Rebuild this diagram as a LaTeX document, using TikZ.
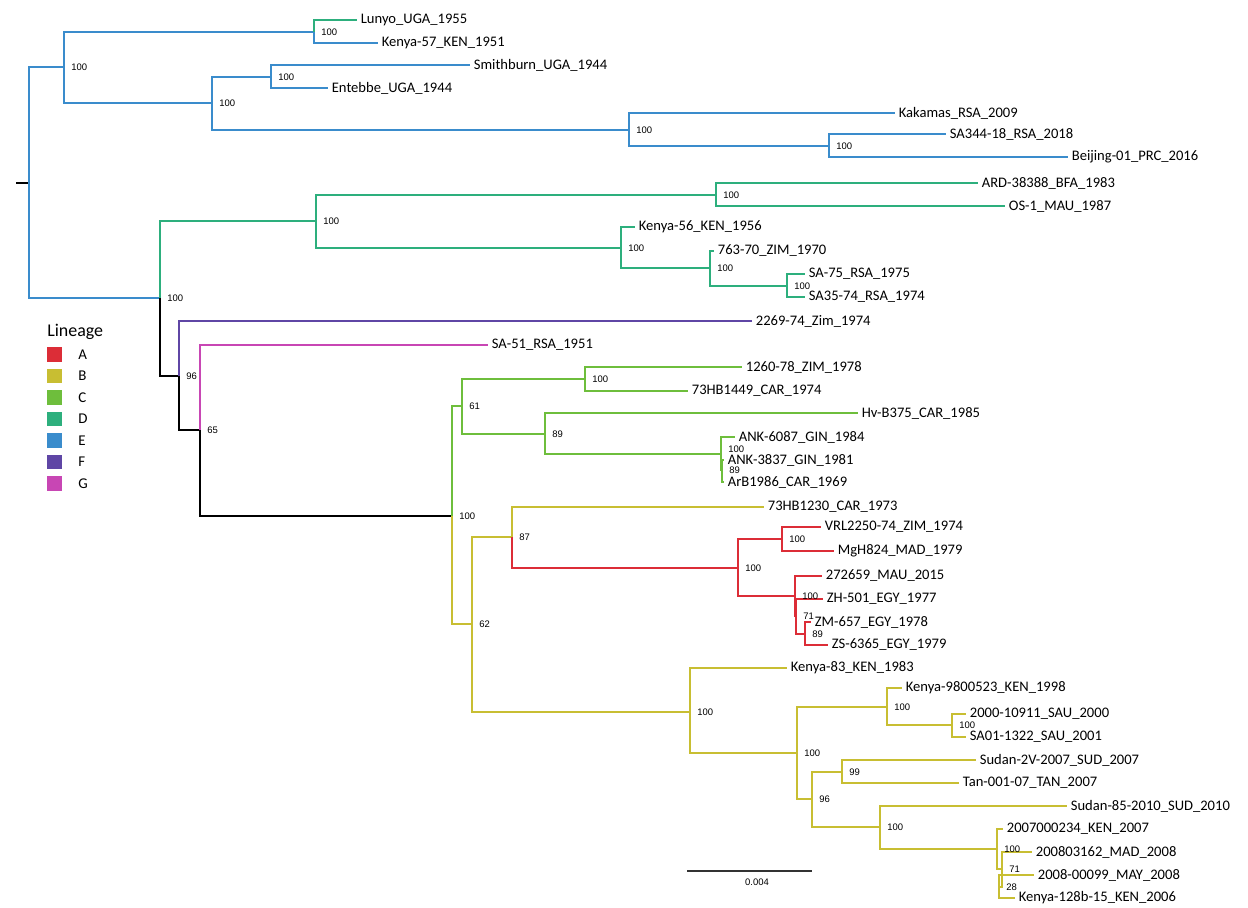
\documentclass[tikz,border=0pt]{standalone}
\usepackage{fontspec}
\setmainfont{Carlito}
\newfontfamily\supfont{Liberation Sans}
\usepackage{tikz}
\usetikzlibrary{positioning}

\definecolor{linA}{RGB}{220,45,55}
\definecolor{linB}{RGB}{200,190,50}
\definecolor{linC}{RGB}{110,190,60}
\definecolor{linD}{RGB}{45,175,125}
\definecolor{linE}{RGB}{58,140,204}
\definecolor{linF}{RGB}{95,70,165}
\definecolor{linG}{RGB}{200,70,180}

\begin{document}
\begin{tikzpicture}[
    x=0.02cm, y=-0.02cm,
    br/.style={line width=1.1pt, draw=#1},
    br/.default=black,
    leaf/.style={anchor=west, font=\fontsize{8.3}{9}\selectfont, inner xsep=2pt, inner ysep=0pt},
    sup/.style={anchor=west, font=\supfont\fontsize{5.4}{6}\selectfont, inner sep=0pt, xshift=4pt},
    keybox/.style={draw=none, fill=#1, minimum size=8.5pt, inner sep=0pt},
    key/.style={anchor=west, font=\fontsize{8.5}{10}\selectfont, inner sep=0pt}
  ]
    \useasboundingbox (0,0) rectangle (1248,907);
    \fill[white] (0,0) rectangle (1248,907);

    % internal nodes of the tree
    \coordinate (stub) at (16,183);
    \coordinate (root) at (29,183);
    \coordinate (nE) at (64,67);
    \coordinate (n12) at (314,32);
    \coordinate (nEb) at (212,103);
    \coordinate (n34) at (271,77);
    \coordinate (nKak) at (629,130);
    \coordinate (nSA) at (829,146);
    \coordinate (nR) at (160,298);
    \coordinate (nD) at (316,221);
    \coordinate (nD1) at (716,195);
    \coordinate (nD2) at (621,248);
    \coordinate (nD3) at (710,268);
    \coordinate (nD4) at (787,286);
    \coordinate (nF) at (179,376);
    \coordinate (nG) at (200,430);
    \coordinate (nCB) at (452,516);
    \coordinate (nC) at (462,406);
    \coordinate (nC1) at (585,379);
    \coordinate (nC2) at (545,434);
    \coordinate (nC3) at (721,454);
    \coordinate (nC4) at (722,470);
    \coordinate (nB) at (472,624);
    \coordinate (nB1) at (512,537);
    \coordinate (nA) at (738,568);
    \coordinate (nA1) at (782,539);
    \coordinate (nA2) at (795,596);
    \coordinate (nA3) at (796,616);
    \coordinate (nA4) at (805,634);
    \coordinate (nB2) at (690,712);
    \coordinate (nB3) at (797,753);
    \coordinate (nB4) at (887,707);
    \coordinate (nB5) at (952,725);
    \coordinate (nB6) at (812,799);
    \coordinate (nB7) at (842,772);
    \coordinate (nB8) at (880,827);
    \coordinate (nB9) at (997,849);
    \coordinate (nB10) at (1002,869);
    \coordinate (nB11) at (999,887);

    % leaves
    \node[leaf] (lunyo) at (357,20) {Lunyo\_UGA\_1955};
    \node[leaf] (ken57) at (378,43) {Kenya-57\_KEN\_1951};
    \node[leaf] (smith) at (470,65) {Smithburn\_UGA\_1944};
    \node[leaf] (enteb) at (328,88) {Entebbe\_UGA\_1944};
    \node[leaf] (kakam) at (895,113) {Kakamas\_RSA\_2009};
    \node[leaf] (sa344) at (946,134) {SA344-18\_RSA\_2018};
    \node[leaf] (beij) at (1068,157) {Beijing-01\_PRC\_2016};
    \node[leaf] (ard) at (978,183) {ARD-38388\_BFA\_1983};
    \node[leaf] (os1) at (1005,206) {OS-1\_MAU\_1987};
    \node[leaf] (ken56) at (635,227) {Kenya-56\_KEN\_1956};
    \node[leaf] (z763) at (714,251) {763-70\_ZIM\_1970};
    \node[leaf] (sa75) at (805,274) {SA-75\_RSA\_1975};
    \node[leaf] (sa35) at (805,297) {SA35-74\_RSA\_1974};
    \node[leaf] (zim2269) at (752,321) {2269-74\_Zim\_1974};
    \node[leaf] (sa51) at (488,345) {SA-51\_RSA\_1951};
    \node[leaf] (z1260) at (742,367) {1260-78\_ZIM\_1978};
    \node[leaf] (hb1449) at (688,391) {73HB1449\_CAR\_1974};
    \node[leaf] (hvb) at (858,413) {Hv-B375\_CAR\_1985};
    \node[leaf] (ank6087) at (735,437) {ANK-6087\_GIN\_1984};
    \node[leaf] (ank3837) at (724,460) {ANK-3837\_GIN\_1981};
    \node[leaf] (arb) at (724,482) {ArB1986\_CAR\_1969};
    \node[leaf] (hb1230) at (764,507) {73HB1230\_CAR\_1973};
    \node[leaf] (vrl) at (821,527) {VRL2250-74\_ZIM\_1974};
    \node[leaf] (mgh) at (834,551) {MgH824\_MAD\_1979};
    \node[leaf] (m272) at (822,576) {272659\_MAU\_2015};
    \node[leaf] (zh501) at (823,599) {ZH-501\_EGY\_1977};
    \node[leaf] (zm657) at (811,622) {ZM-657\_EGY\_1978};
    \node[leaf] (zs6365) at (828,645) {ZS-6365\_EGY\_1979};
    \node[leaf] (ken83) at (787,668) {Kenya-83\_KEN\_1983};
    \node[leaf] (ken98) at (902,688) {Kenya-9800523\_KEN\_1998};
    \node[leaf] (s2000) at (966,714) {2000-10911\_SAU\_2000};
    \node[leaf] (sa01) at (966,737) {SA01-1322\_SAU\_2001};
    \node[leaf] (sud2v) at (976,760) {Sudan-2V-2007\_SUD\_2007};
    \node[leaf] (tan) at (959,783) {Tan-001-07\_TAN\_2007};
    \node[leaf] (sud85) at (1067,806) {Sudan-85-2010\_SUD\_2010};
    \node[leaf] (k2007) at (1003,829) {2007000234\_KEN\_2007};
    \node[leaf] (m2008) at (1032,852) {200803162\_MAD\_2008};
    \node[leaf] (may2008) at (1034,875) {2008-00099\_MAY\_2008};
    \node[leaf] (k128) at (1015,898) {Kenya-128b-15\_KEN\_2006};

    % branches, lineage E
    \draw[br] (stub) -- (root);
    \draw[br=linE] (root) |- (nE);
    \draw[br=linE] (root) |- (nR);
    \draw[br=linE] (nE) |- (n12);
    \draw[br=linE] (nE) |- (nEb);
    \draw[br=linD] (n12) |- (lunyo.west);
    \draw[br=linE] (n12) |- (ken57.west);
    \draw[br=linE] (nEb) |- (n34);
    \draw[br=linE] (nEb) |- (nKak);
    \draw[br=linE] (n34) |- (smith.west);
    \draw[br=linE] (n34) |- (enteb.west);
    \draw[br=linE] (nKak) |- (kakam.west);
    \draw[br=linE] (nKak) |- (nSA);
    \draw[br=linE] (nSA) |- (sa344.west);
    \draw[br=linE] (nSA) |- (beij.west);

    % lineage D
    \draw[br=linD] (nR) |- (nD);
    \draw[br=linD] (nD) |- (nD1);
    \draw[br=linD] (nD) |- (nD2);
    \draw[br=linD] (nD1) |- (ard.west);
    \draw[br=linD] (nD1) |- (os1.west);
    \draw[br=linD] (nD2) |- (ken56.west);
    \draw[br=linD] (nD2) |- (nD3);
    \draw[br=linD] (nD3) |- (z763.west);
    \draw[br=linD] (nD3) |- (nD4);
    \draw[br=linD] (nD4) |- (sa75.west);
    \draw[br=linD] (nD4) |- (sa35.west);

    % backbone, F and G
    \draw[br] (nR) |- (nF);
    \draw[br=linF] (nF) |- (zim2269.west);
    \draw[br] (nF) |- (nG);
    \draw[br=linG] (nG) |- (sa51.west);
    \draw[br] (nG) |- (nCB);

    % lineage C
    \draw[br=linC] (nCB) |- (nC);
    \draw[br=linC] (nC) |- (nC1);
    \draw[br=linC] (nC) |- (nC2);
    \draw[br=linC] (nC1) |- (z1260.west);
    \draw[br=linC] (nC1) |- (hb1449.west);
    \draw[br=linC] (nC2) |- (hvb.west);
    \draw[br=linC] (nC2) |- (nC3);
    \draw[br=linC] (nC3) |- (ank6087.west);
    \draw[br=linC] (nC3) |- (nC4);
    \draw[br=linC] (nC4) |- (ank3837.west);
    \draw[br=linC] (nC4) |- (arb.west);

    % lineages B and A
    \draw[br=linB] (nCB) |- (nB);
    \draw[br=linB] (nB) |- (nB1);
    \draw[br=linB] (nB) |- (nB2);
    \draw[br=linB] (nB1) |- (hb1230.west);
    \draw[br=linA] (nB1) |- (nA);
    \draw[br=linA] (nA) |- (nA1);
    \draw[br=linA] (nA) |- (nA2);
    \draw[br=linA] (nA1) |- (vrl.west);
    \draw[br=linA] (nA1) |- (mgh.west);
    \draw[br=linA] (nA2) |- (m272.west);
    \draw[br=linA] (nA2) |- (nA3);
    \draw[br=linA] (nA3) |- (zh501.west);
    \draw[br=linA] (nA3) |- (nA4);
    \draw[br=linA] (nA4) |- (zm657.west);
    \draw[br=linA] (nA4) |- (zs6365.west);
    \draw[br=linB] (nB2) |- (ken83.west);
    \draw[br=linB] (nB2) |- (nB3);
    \draw[br=linB] (nB3) |- (nB4);
    \draw[br=linB] (nB3) |- (nB6);
    \draw[br=linB] (nB4) |- (ken98.west);
    \draw[br=linB] (nB4) |- (nB5);
    \draw[br=linB] (nB5) |- (s2000.west);
    \draw[br=linB] (nB5) |- (sa01.west);
    \draw[br=linB] (nB6) |- (nB7);
    \draw[br=linB] (nB6) |- (nB8);
    \draw[br=linB] (nB7) |- (sud2v.west);
    \draw[br=linB] (nB7) |- (tan.west);
    \draw[br=linB] (nB8) |- (sud85.west);
    \draw[br=linB] (nB8) |- (nB9);
    \draw[br=linB] (nB9) |- (k2007.west);
    \draw[br=linB] (nB9) |- (nB10);
    \draw[br=linB] (nB10) |- (m2008.west);
    \draw[br=linB] (nB10) |- (nB11);
    \draw[br=linB] (nB11) |- (may2008.west);
    \draw[br=linB] (nB11) |- (k128.west);

    % support values
    \foreach \n/\v in {nE/100, n12/100, nEb/100, n34/100, nKak/100, nSA/100,
        nR/100, nD/100, nD1/100, nD2/100, nD3/100, nD4/100, nF/96, nG/65,
        nCB/100, nC/61, nC1/100, nC2/89, nC4/89, nB/62, nB1/87,
        nA/100, nA1/100, nA2/100, nA3/71, nA4/89, nB2/100, nB3/100, nB4/100,
        nB5/100, nB6/96, nB7/99, nB8/100, nB9/100, nB10/71, nB11/28} {
      \node[sup] (s-\n) at (\n) {\v};
    }
    \node[sup, yshift=2.5pt] (s-nC3) at (nC3) {100};

    % scale bar
    \coordinate (barL) at (687,871);
    \coordinate (barR) at (812,871);
    \draw[line width=0.6pt, black!80] (barL) -- (barR);
    \node[sup, anchor=center, xshift=0pt] (barlab) at (750,882) {0.004};

    % legend
    \node[anchor=west, font=\fontsize{10.2}{12}\selectfont, inner sep=0pt] (lintitle) at (47,332) {Lineage};
    \foreach \c/\l [count=\i from 0] in {linA/A, linB/B, linC/C, linD/D, linE/E, linF/F, linG/G} {
      \node[keybox=\c] (box\l) at (54.5,354.5+21.5*\i) {};
      \node[key] (key\l) at (78,354.5+21.5*\i) {\l};
    }
\end{tikzpicture}
\end{document}
